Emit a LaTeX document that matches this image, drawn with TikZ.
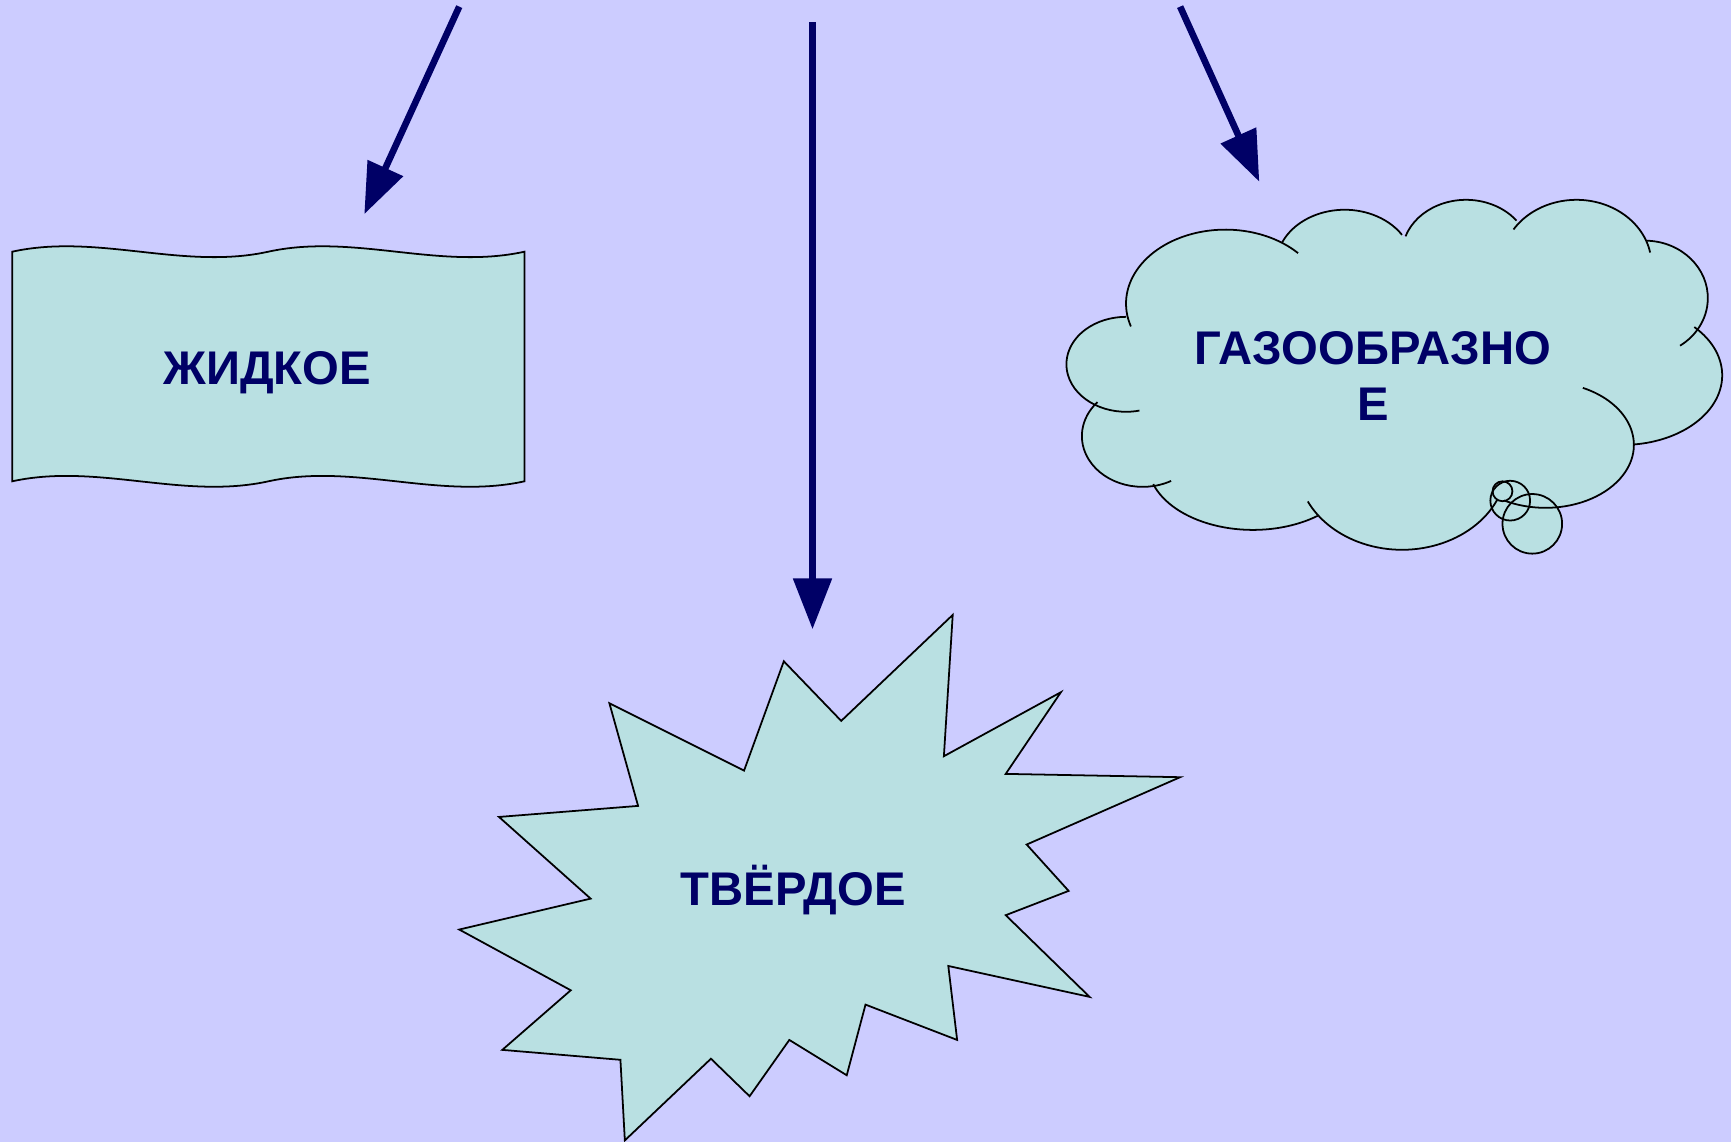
\documentclass[tikz,border=0pt]{standalone}
\usepackage{fontspec}
\setmainfont{Liberation Sans}
\usetikzlibrary{arrows.meta}
\definecolor{bgc}{HTML}{CCCCFF}
\definecolor{fillc}{HTML}{B9E0E2}
\definecolor{navy}{HTML}{000066}
\tikzset{
  arr/.style={draw=navy, fill=navy, line width=3pt, -{Triangle[length=23pt,width=17pt]}},
  shapebox/.style={draw=black, fill=fillc, line width=0.8pt, line join=miter},
  cloudline/.style={draw=black, line width=0.8pt},
  lbl/.style={text=navy, font=\fontsize{21.4}{25.5}\selectfont\bfseries, inner sep=0pt, align=center}
}
\begin{document}
\begin{tikzpicture}[x=0.5pt,y=-0.5pt]
\fill[bgc] (0,0) rectangle (1568,1034.4);
\useasboundingbox (0,0) rectangle (1568,1034.4);

% liquid: wave shape
\draw[shapebox] (11,228) .. controls (88.3,211) and (165.7,245) .. (243,228)
  .. controls (320.3,211) and (397.7,245) .. (475,228) -- (475,436)
  .. controls (397.7,453) and (320.3,419) .. (243,436)
  .. controls (165.7,453) and (88.3,419) .. (11,436) -- cycle;
\node[lbl, anchor=base] (liquid) at (242,348.7) {ЖИДКОЕ};

% solid: explosion
\draw[shapebox] (863,557) -- (855,685) -- (961,627) -- (911,701) -- (1069,704)
  -- (930,765) -- (968,807) -- (911,829) -- (987,903) -- (859,875) -- (867,942)
  -- (784,910) -- (767,974) -- (715,942) -- (679,993) -- (644,959) -- (566,1033)
  -- (562,960) -- (455,951) -- (517,897) -- (416,842) -- (535,814) -- (452,740)
  -- (578,730) -- (552,637) -- (674,698) -- (710,599) -- (762,653) -- cycle;
\node[lbl, anchor=base] (solid) at (718.5,820) {ТВЁРДОЕ};

% gas: cloud
\fill[fillc] (1030,290) -- (1170,232) -- (1272,218) -- (1372,208) -- (1490,228)
  -- (1525,305) -- (1470,395) -- (1355,448) -- (1190,460) -- (1050,435)
  -- (1005,368) -- (1035,335) -- cycle;
\foreach \cx/\cy/\rx/\ry in {1110/275/90/67, 1218/240/62/50, 1328/230/58/49,
  1428/240/68/59, 1490/270/57/52, 1470/340/90/63, 1400/403/80/57,
  1270/420/95/78, 1135/420/95/60, 1035/395/55/46, 1020/330/54/43}
  {\fill[fillc] (\cx,\cy) ellipse [x radius=\rx, y radius=\ry];}
\fill[fillc] (1361,445) circle [radius=9];
\fill[fillc] (1368,453.5) circle [radius=18];
\fill[fillc] (1388,474.5) circle [radius=27];
\foreach \cx/\cy/\rx/\ry/\a/\b in {1110/275/90/67/162/317, 1218/240/62/50/204/327,
  1328/230/58/49/199/322, 1428/240/68/59/213/349, 1490/270/57/52/272/416,
  1470/340/90/63/316/443, 1400/403/80/57/295/478, 1270/420/95/78/25/154,
  1135/420/95/60/52/162, 1035/395/55/46/62/222, 1020/330/54/43/77/270}
  {\draw[cloudline] ({\cx+\rx*cos(\a)},{\cy+\ry*sin(\a)})
     arc[start angle=\a, end angle=\b, x radius=\rx, y radius=\ry];}
\draw[cloudline] (1361,445) circle [radius=9];
\draw[cloudline] (1368,453.5) circle [radius=18];
\draw[cloudline] (1388,474.5) circle [radius=27];
\node[lbl, anchor=base] (gas) at (1243.5,381) {ГАЗООБРАЗНО\\Е};

% arrows
\coordinate (l0) at (416,6);
\coordinate (l1) at (330,194);
\coordinate (c0) at (736,20);
\coordinate (c1) at (736,570);
\coordinate (r0) at (1069,6);
\coordinate (r1) at (1140.7,164.6);
\draw[arr] (l0) -- (l1);
\draw[arr] (c0) -- (c1);
\draw[arr] (r0) -- (r1);
\end{tikzpicture}
\end{document}
